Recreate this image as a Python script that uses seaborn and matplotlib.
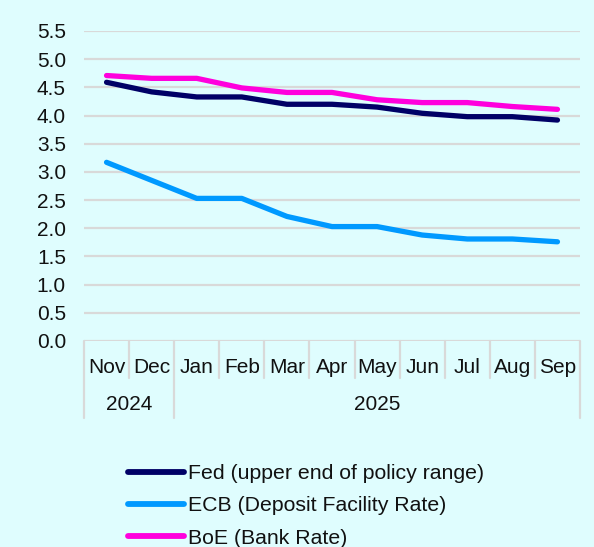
import matplotlib
matplotlib.use("Agg")
import matplotlib.pyplot as plt
import seaborn as sns
import pandas as pd

months = ["Nov", "Dec", "Jan", "Feb", "Mar", "Apr", "May", "Jun", "Jul", "Aug", "Sep"]
years = ["2024", "2025"]
year_spans = [(0, 2), (2, 11)]
fed = [4.59, 4.42, 4.33, 4.33, 4.20, 4.20, 4.15, 4.04, 3.98, 3.98, 3.92]
ecb = [3.17, 2.85, 2.53, 2.53, 2.21, 2.03, 2.03, 1.88, 1.81, 1.81, 1.76]
boe = [4.71, 4.66, 4.66, 4.49, 4.41, 4.41, 4.28, 4.23, 4.23, 4.16, 4.11]
series_names = ["Fed (upper end of policy range)", "ECB (Deposit Facility Rate)", "BoE (Bank Rate)"]
colors = ["#000066", "#0099FF", "#FF00DD"]
yticks = [0.0, 0.5, 1.0, 1.5, 2.0, 2.5, 3.0, 3.5, 4.0, 4.5, 5.0, 5.5]

bg = "#DFFDFE"
grid_c = "#D9D9D9"
FS = 15

sns.set_theme(style="white")
plt.rcParams["font.family"] = ["Liberation Sans", "DejaVu Sans"]

df = pd.DataFrame({
    "month": months * 3,
    "value": fed + ecb + boe,
    "series": [series_names[0]] * 11 + [series_names[1]] * 11 + [series_names[2]] * 11,
})

W, H = 594, 547
fig = plt.figure(figsize=(W / 100, H / 100), dpi=100, facecolor=bg)
L, R, T, B = 84, 580, 31, 341
ax = fig.add_axes([L / W, 1 - B / H, (R - L) / W, (B - T) / H])
ax.set_facecolor(bg)

for y in yticks:
    ax.axhline(y, color=grid_c, lw=1.6, zorder=0)

sns.lineplot(data=df, x="month", y="value", hue="series", palette=colors,
             hue_order=series_names, sort=False, lw=3.8, ax=ax, legend=True,
             solid_capstyle="round", zorder=3)

ax.set_xlim(-0.5, len(months) - 0.5)
ax.set_ylim(0, 5.5)
ax.set_yticks(yticks)
ax.set_yticklabels([f"{v:.1f}" for v in yticks])
ax.set_xlabel("")
ax.set_ylabel("")
for s in ax.spines.values():
    s.set_visible(False)
ax.tick_params(axis="y", length=0, pad=13, labelsize=FS, colors="#111111")
ax.tick_params(axis="x", length=0, pad=12, labelsize=FS, colors="#111111")

# category separators
xt = ax.get_xaxis_transform()
h_px = B - T
month_bottom = -(378 - B) / h_px
year_bottom = -(418 - B) / h_px
year_bounds = sorted(set([a for a, b in year_spans] + [b for a, b in year_spans]))
for i in range(len(months) + 1):
    x = i - 0.5
    yb = year_bottom if i in year_bounds else month_bottom
    ax.plot([x, x], [0, yb], transform=xt, color=grid_c, lw=1.6, clip_on=False, zorder=1)

year_y = -(405 - B) / h_px
for yr, (a, b) in zip(years, year_spans):
    ax.text((a + b - 1) / 2, year_y, yr, transform=xt, ha="center", va="center",
            fontsize=FS, color="#111111")

leg = ax.legend(loc="upper left", bbox_to_anchor=(128 / W, 1 - 464 / H),
                bbox_transform=fig.transFigure, frameon=False, fontsize=15.3,
                handlelength=2.65, handletextpad=0.15, labelspacing=0.63, borderpad=0,
                borderaxespad=0)
for line in leg.get_lines():
    line.set_linewidth(4.2)
    line.set_solid_capstyle("round")
for t in leg.get_texts():
    t.set_color("#111111")

fig.savefig("out.png", dpi=100, facecolor=bg)
